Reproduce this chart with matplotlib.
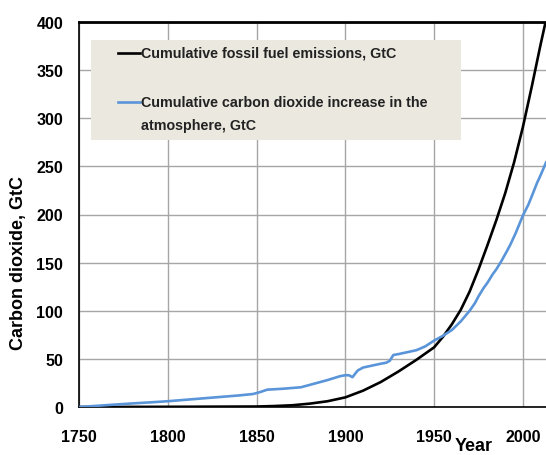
import matplotlib
matplotlib.use('Agg')
import matplotlib.pyplot as plt
from matplotlib.patches import Rectangle
from matplotlib.lines import Line2D

# cumulative fossil fuel emissions (GtC)
fossil_years = [1750, 1800, 1850, 1860, 1870, 1880, 1890, 1900, 1910, 1920,
                1930, 1940, 1950, 1955, 1960, 1965, 1970, 1975, 1980, 1985,
                1990, 1995, 2000, 2005, 2010, 2013]
fossil_vals = [0, 0.2, 0.5, 1.0, 1.8, 3.5, 6, 10, 17, 26,
               37, 49, 62, 73, 86, 101, 120, 143, 168, 194,
               222, 254, 291, 333, 377, 402]

# cumulative CO2 increase in the atmosphere (GtC)
atmos_years = [1750, 1760, 1770, 1780, 1790, 1800, 1810, 1820, 1830, 1840,
               1848, 1852, 1856, 1865, 1875, 1880, 1890, 1897, 1900, 1902,
               1904, 1907, 1910, 1915, 1920, 1923, 1925, 1927, 1930, 1935,
               1940, 1945, 1950, 1955, 1960, 1965, 1970, 1973, 1975, 1978,
               1980, 1983, 1985, 1988, 1991, 1993, 1996, 2000, 2003, 2005,
               2008, 2010, 2013]
atmos_vals = [0, 1.2, 2.5, 3.7, 4.8, 6, 7.5, 9, 10.5, 12,
              13.5, 15.5, 18, 19, 20.5, 23, 28, 32, 33, 33,
              31, 38, 41, 43, 45, 46, 48, 54, 55, 57,
              59, 63, 69, 74, 80, 89, 100, 108, 115, 124,
              129, 138, 143, 152, 162, 169, 181, 199, 210, 219,
              233, 241, 254]

fossil_label = 'Cumulative fossil fuel emissions, GtC'
atmos_label_lines = ['Cumulative carbon dioxide increase in the', 'atmosphere, GtC']

black = 'black'
blue = '#5B95D9'

plt.rcParams['font.family'] = ['Liberation Sans', 'DejaVu Sans']

W, H = 546, 456
fig = plt.figure(figsize=(W / 100, H / 100), dpi=100)
ax = fig.add_axes([79 / W, 1 - 408 / H, (W - 79) / W, 385 / H])

ax.plot(fossil_years, fossil_vals, color=black, lw=1.9, zorder=3)
ax.plot(atmos_years, atmos_vals, color=blue, lw=1.9, zorder=3)

ax.set_xlim(1750, 2013)
ax.set_ylim(0, 400)
ax.set_xticks(range(1750, 2001, 50))
ax.set_yticks(range(0, 401, 50))
ax.grid(True, color='#A6A6A6', lw=1.0)
ax.set_axisbelow(True)
ax.tick_params(axis='both', length=0, labelsize=11.5)
ax.tick_params(axis='x', pad=16)
ax.tick_params(axis='y', pad=11.5)
for lab in ax.get_xticklabels() + ax.get_yticklabels():
    lab.set_fontweight('bold')

for side in ['top', 'left', 'bottom']:
    ax.spines[side].set_color('black')
ax.spines['top'].set_linewidth(2.0)
ax.spines['left'].set_linewidth(1.2)
ax.spines['bottom'].set_linewidth(1.2)
ax.spines['right'].set_visible(False)

fig.text(19 / W, 1 - 263 / H, 'Carbon dioxide, GtC', rotation=90,
         ha='center', va='center', fontsize=13, fontweight='bold')
fig.text(474 / W, 1 - 447 / H, 'Year', ha='center', va='center',
         fontsize=13, fontweight='bold')

# legend: background box, short line handles, labels
ax.add_patch(Rectangle((91 / W, 1 - 141 / H), 370 / W, 100 / H,
                       transform=fig.transFigure, facecolor='#EBE8DF',
                       edgecolor='none', zorder=2.5))
legend_font = dict(fontsize=10.3, fontweight='bold', color='#222222', va='center')
for color, ypix in [(black, 54), (blue, 103)]:
    fig.add_artist(Line2D([118 / W, 140 / W], [1 - ypix / H, 1 - ypix / H],
                          color=color, lw=1.9, transform=fig.transFigure))
fig.text(141 / W, 1 - 54 / H, fossil_label, **legend_font)
fig.text(141 / W, 1 - 103 / H, atmos_label_lines[0], **legend_font)
fig.text(141 / W, 1 - 126 / H, atmos_label_lines[1], **legend_font)

fig.savefig('out.png', dpi=100)
